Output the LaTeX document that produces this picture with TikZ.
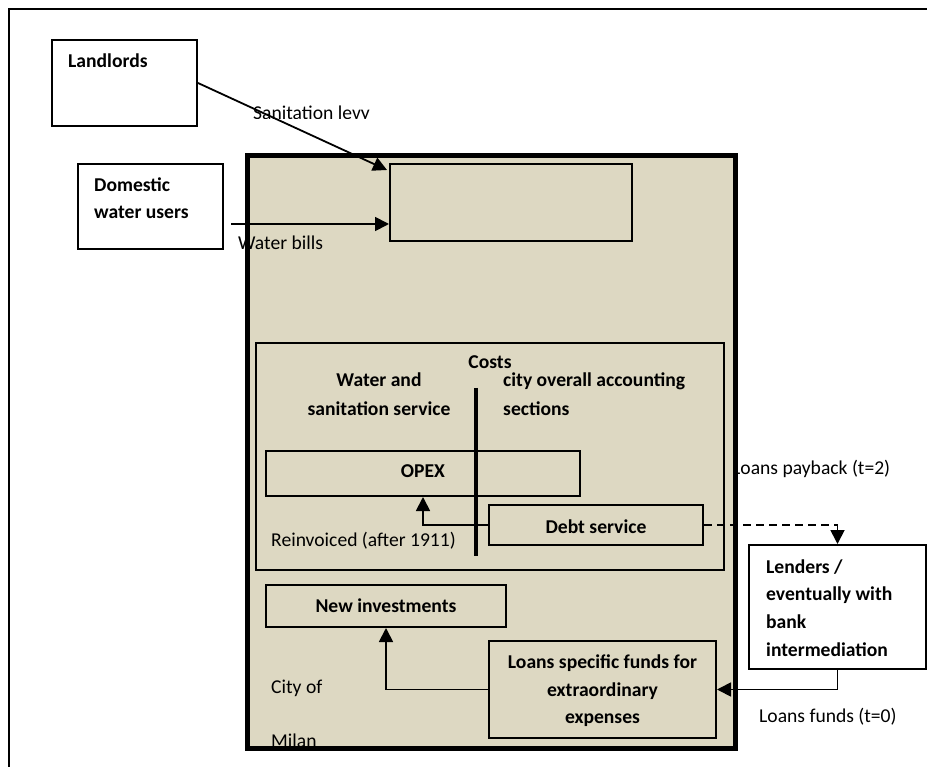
\documentclass[tikz,border=0pt]{standalone}
\usepackage{fontspec}
\setmainfont{Carlito}
\usetikzlibrary{arrows.meta,calc}
\definecolor{beige}{RGB}{221,216,194}
\begin{document}
\begin{tikzpicture}[x=1pt,y=-1pt,
  box/.style={draw, line width=2pt, rectangle, inner sep=0pt, anchor=north west},
  fbox/.style={box, fill=beige},
  txt/.style={font=\fontsize{19.6}{24}\selectfont, inner sep=0pt, anchor=base west},
  btxt/.style={txt, font=\fontsize{19.6}{24}\selectfont\bfseries},
  ctxt/.style={btxt, anchor=base},
  arr/.style={line width=1.8pt, -{Triangle[length=14pt,width=14pt]}},
  darr/.style={arr, dash pattern=on 8pt off 5pt}]
\useasboundingbox (0,0) rectangle (927,767);
% frame
\draw[line width=2.2pt] (9,767) -- (9,9) -- (927,9);
% outer boxes
\node[box, minimum width=145pt, minimum height=86pt] (land) at (51,39) {};
\node[box, minimum width=145pt, minimum height=85pt] (dom) at (77,163) {};
\node[fbox, line width=3.2pt, minimum width=486pt, minimum height=591pt] (city) at (247,155) {};
\node[fbox, minimum width=242pt, minimum height=77pt] (rev) at (389,163) {};
\node[fbox, minimum width=468pt, minimum height=227pt] (costs) at (255,342) {};
\node[fbox, minimum width=314pt, minimum height=45pt] (opex) at (265,450) {};
\node[fbox, minimum width=214pt, minimum height=40pt] (debt) at (488,504) {};
\node[fbox, minimum width=240pt, minimum height=42pt] (newinv) at (265,584) {};
\node[fbox, minimum width=227pt, minimum height=97pt] (loans) at (488,640) {};
\node[box, fill=white, minimum width=177pt, minimum height=124pt] (lend) at (748,544) {};
% divider
\coordinate (dtop) at (476,388);
\coordinate (dbot) at (476,556);
% texts
\node[btxt] (tland) at (68,68) {Landlords};
\node[btxt] (tdom1) at (94,192) {Domestic};
\node[btxt] (tdom2) at (94,219) {water users};
\begin{scope}
\clip (240,90) rectangle (400,118.5);
\node[txt] (tsan) at (253,120) {Sanitation levy};
\end{scope}
\node[txt] (twb) at (238,250) {Water bills};
\node[ctxt] (tcosts) at (490,369) {Costs};
\node[ctxt] (twat1) at (379,387) {Water and};
\node[ctxt] (twat2) at (379,416) {sanitation service};
\node[btxt] (tcity1) at (503,387) {city overall accounting};
\node[btxt] (tcity2) at (503,416) {sections};
\node[ctxt] (topex) at (opex.center |- 0,477) {OPEX};
\node[ctxt] (tdebt) at (debt.center |- 0,533) {Debt service};
\node[txt] (treinv) at (271,546) {Reinvoiced (after 1911)};
\node[ctxt] (tnew) at (newinv.center |- 0,612) {New investments};
\node[ctxt] (tl1) at (loans.center |- 0,668) {Loans specific funds for};
\node[ctxt] (tl2) at (loans.center |- 0,696) {extraordinary};
\node[ctxt] (tl3) at (loans.center |- 0,723) {expenses};
\node[txt] (tcityof) at (271,693) {City of};
\begin{scope}
\clip (city.north west) rectangle (city.south east);
\node[txt] (tmilan) at (271,747.5) {Milan};
\end{scope}
\draw[line width=3.2pt] (city.north west) rectangle (city.south east);
\node[btxt] (tle1) at (766,573) {Lenders /};
\node[btxt] (tle2) at (766,600) {eventually with};
\node[btxt] (tle3) at (766,628) {bank};
\node[btxt] (tle4) at (766,656) {intermediation};
\node[txt] (tpay) at (732,475) {Loans payback (t=2)};
\node[txt] (tfunds) at (759,722) {Loans funds (t=0)};
% connectors
\coordinate (wb) at (231,224);
\draw[arr] (land.east) -- ($(rev.north west)+(-2,7)$);
\draw[arr] (wb) -- (wb -| rev.west);
\draw[arr] (debt.west) -| (opex.south);
\draw[line width=4.5pt] (dtop) -- (dbot);
\draw[arr] (loans.west) -| (newinv.south);
\draw[arr] (lend.south) |- (loans.east);
\draw[darr] (debt.east) -| (lend.north);
\end{tikzpicture}
\end{document}
